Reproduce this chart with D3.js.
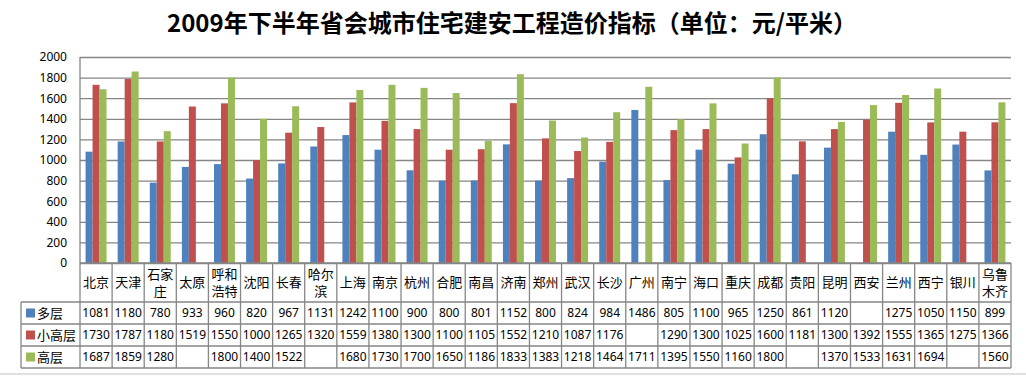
<!DOCTYPE html>
<html lang="zh-CN">
<head>
<meta charset="utf-8">
<script src="https://cdn.jsdelivr.net/npm/d3@7"></script>
<style>
  body { margin: 0; background: #fff; }
  svg { display: block; }
  text { fill: #000; }
</style>
</head>
<body>
<svg id="chart" width="1026" height="377"></svg>
<script>
// data
const cities = ['北京', '天津', '石家庄', '太原', '呼和浩特', '沈阳', '长春', '哈尔滨', '上海', '南京',
    '杭州', '合肥', '南昌', '济南', '郑州', '武汉', '长沙', '广州', '南宁', '海口',
    '重庆', '成都', '贵阳', '昆明', '西安', '兰州', '西宁', '银川', '乌鲁木齐']
const seriesNames = ['多层', '小高层', '高层']
const multiStorey = [1081, 1180, 780, 933, 960, 820, 967, 1131, 1242, 1100, 900, 800, 801, 1152, 800,
    824, 984, 1486, 805, 1100, 965, 1250, 861, 1120, null, 1275, 1050, 1150, 899]
const midRise = [1730, 1787, 1180, 1519, 1550, 1000, 1265, 1320, 1559, 1380, 1300, 1100, 1105, 1552, 1210,
    1087, 1176, null, 1290, 1300, 1025, 1600, 1181, 1300, 1392, 1555, 1365, 1275, 1366]
const highRise = [1687, 1859, 1280, null, 1800, 1400, 1522, null, 1680, 1730, 1700, 1650, 1186, 1833, 1383,
    1218, 1464, 1711, 1395, 1550, 1160, 1800, null, 1370, 1533, 1631, 1694, null, 1560]
const yTicks = [0, 200, 400, 600, 800, 1000, 1200, 1400, 1600, 1800, 2000]

const colors = ['#4F81BD', '#C0504D', '#9BBB59']
const values = [multiStorey, midRise, highRise]

const svg = d3.select('#chart')
const plotLeft = 80, plotRight = 1011, plotTop = 57, plotBottom = 263
const rowH = [263, 302, 324, 346, 368]
const labelLeft = 21
const lineColor = '#868686'
const numFont = '"Noto Sans", sans-serif'
const cjkFont = '"Noto Sans CJK SC", sans-serif'

const x0 = d3.scaleBand().domain(cities).range([plotLeft, plotRight])
const x1 = d3.scaleBand().domain(seriesNames).range([0, x0.bandwidth()]).paddingOuter(0.8)
const y = d3.scaleLinear().domain([0, 2000]).range([plotBottom, plotTop])

// title
svg.append('text')
    .attr('x', 512).attr('y', 32)
    .attr('text-anchor', 'middle')
    .attr('font-family', cjkFont)
    .attr('font-weight', 'bold')
    .attr('font-size', 24)
    .text('2009年下半年省会城市住宅建安工程造价指标（单位：元/平米）')

// gridlines + y axis
const yAxis = d3.axisLeft(y).tickValues(yTicks).tickFormat(d3.format('d'))
    .tickSize(-(plotRight - plotLeft)).tickPadding(13)
const ga = svg.append('g').attr('transform', `translate(${plotLeft},0)`).call(yAxis)
ga.select('.domain').remove()
ga.selectAll('.tick line').attr('stroke', lineColor).attr('stroke-width', 1.3)
ga.selectAll('.tick text')
    .attr('font-family', numFont).attr('font-size', 12).attr('fill', '#000')

// bars
const groups = svg.append('g').selectAll('g')
    .data(cities)
    .join('g')
    .attr('transform', d => `translate(${x0(d)},0)`)

groups.selectAll('rect')
    .data((c, i) => seriesNames.map((s, k) => ({ s, v: values[k][i], k })).filter(d => d.v != null))
    .join('rect')
    .attr('x', d => x1(d.s))
    .attr('width', x1.bandwidth())
    .attr('y', d => y(d.v))
    .attr('height', d => y(0) - y(d.v))
    .attr('fill', d => colors[d.k])

// data table lines
const table = svg.append('g').attr('stroke', lineColor).attr('stroke-width', 1.3)
rowH.forEach((h, i) => {
    table.append('line')
        .attr('x1', i === 0 ? plotLeft : labelLeft).attr('x2', plotRight)
        .attr('y1', h).attr('y2', h)
})
table.append('line').attr('x1', plotLeft).attr('x2', plotLeft).attr('y1', plotTop).attr('y2', rowH[4])
table.append('line').attr('x1', labelLeft).attr('x2', labelLeft).attr('y1', rowH[1]).attr('y2', rowH[4])
cities.forEach(c => {
    table.append('line')
        .attr('x1', x0(c) + x0.bandwidth()).attr('x2', x0(c) + x0.bandwidth())
        .attr('y1', rowH[0]).attr('y2', rowH[4])
})

// category labels, two characters per line
cities.forEach(c => {
    const lines = c.length > 2 ? [c.slice(0, 2), c.slice(2)] : [c]
    const cx = x0(c) + x0.bandwidth() / 2
    const mid = (rowH[0] + rowH[1]) / 2
    lines.forEach((l, j) => {
        svg.append('text')
            .attr('x', cx)
            .attr('y', mid + (j - (lines.length - 1) / 2) * 17)
            .attr('dy', '0.36em')
            .attr('text-anchor', 'middle')
            .attr('fill', '#000')
            .attr('font-family', cjkFont).attr('font-size', 13)
            .text(l)
    })
})

// series rows
seriesNames.forEach((s, k) => {
    const mid = (rowH[k + 1] + rowH[k + 2]) / 2
    svg.append('rect')
        .attr('x', 26).attr('y', mid - 4.5).attr('width', 9).attr('height', 9)
        .attr('fill', colors[k])
    svg.append('text')
        .attr('x', 37).attr('y', mid).attr('dy', '0.36em')
        .attr('font-family', cjkFont).attr('font-size', 13)
        .text(s)
    cities.forEach((c, i) => {
        if (values[k][i] == null) return
        svg.append('text')
            .attr('x', x0(c) + x0.bandwidth() / 2).attr('y', mid).attr('dy', '0.36em')
            .attr('text-anchor', 'middle')
            .attr('font-family', numFont).attr('font-size', 12)
            .text(values[k][i])
    })
})

// outer frame line at the bottom
svg.append('line')
    .attr('x1', 0).attr('x2', 1026).attr('y1', 374).attr('y2', 374)
    .attr('stroke', '#bfbfbf').attr('stroke-width', 1)
</script>
</body>
</html>
